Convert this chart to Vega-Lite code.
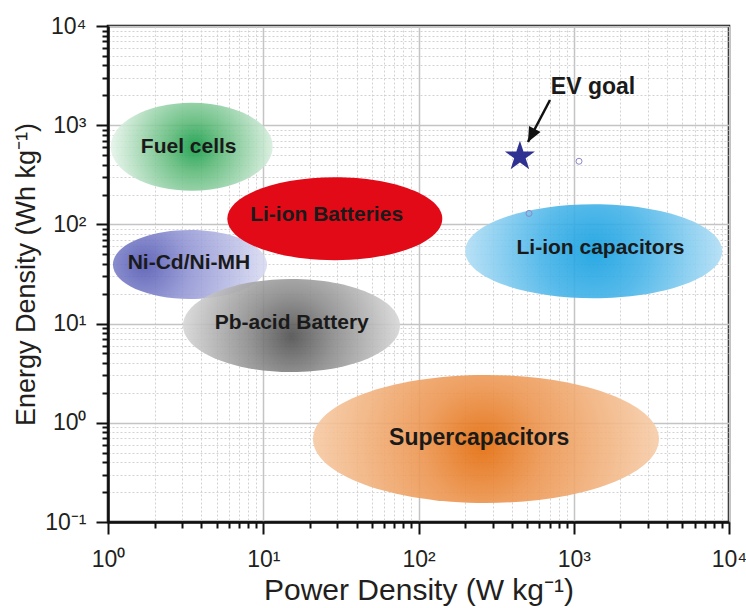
{
  "$schema": "https://vega.github.io/schema/vega-lite/v6.json",
  "width": 621,
  "height": 496,
  "autosize": {"type": "none"},
  "padding": {"left": 108, "top": 26, "right": 17, "bottom": 86},
  "background": "white",
  "config": {
    "font": "Arial, Liberation Sans, sans-serif",
    "view": {"stroke": "#111111", "strokeWidth": 2.5},
    "axis": {
      "domainColor": "#111111",
      "domainWidth": 2.5,
      "tickColor": "#111111",
      "tickWidth": 2,
      "labelFont": "Arial, Liberation Sans, sans-serif",
      "labelFontSize": 23,
      "labelColor": "#231f20",
      "labelOverlap": false,
      "labelFlush": false,
      "titleFont": "Arial, Liberation Sans, sans-serif",
      "titleFontWeight": "normal",
      "titleColor": "#231f20",
      "grid": true,
      "tickSize": {"condition": {"test": "abs(log(datum.value)/LN10 - round(log(datum.value)/LN10)) < 0.001", "value": 12}, "value": 6},
      "gridDash": {"condition": {"test": "abs(log(datum.value)/LN10 - round(log(datum.value)/LN10)) < 0.001", "value": []}, "value": [2, 2]},
      "gridColor": {"condition": {"test": "abs(log(datum.value)/LN10 - round(log(datum.value)/LN10)) < 0.001", "value": "#c4c4c4"}, "value": "#d2d2d2"},
      "gridWidth": {"condition": {"test": "abs(log(datum.value)/LN10 - round(log(datum.value)/LN10)) < 0.001", "value": 1.5}, "value": 1},
      "labelExpr": "abs(log(datum.value)/LN10 - round(log(datum.value)/LN10)) < 0.001 ? '10' + ['⁻¹','⁰','¹','²','³','⁴'][round(log(datum.value)/LN10) + 1] : ''"
    }
  },
  "datasets": {
    "regions": [
      {"name": "Fuel cells", "x": 3.46, "y": 607, "lx": 3.31, "ly": 603},
      {"name": "Li-ion capacitors", "x": 1344, "y": 53.7, "lx": 1487, "ly": 57.8},
      {"name": "Supercapacitors", "x": 272, "y": 0.687, "lx": 246, "ly": 0.698},
      {"name": "Ni-Cd/Ni-MH", "x": 3.37, "y": 39.4, "lx": 3.32, "ly": 40.5},
      {"name": "Pb-acid Battery", "x": 15.2, "y": 9.57, "lx": 15.25, "ly": 10.07},
      {"name": "Li-ion Batteries", "x": 28.9, "y": 114.2, "lx": 25.6, "ly": 124.4}
    ],
    "goal": [{"label": "EV goal", "x": 450, "y": 484, "lx": 1330, "ly": 2443}],
    "samples": [{"x": 1081, "y": 433}, {"x": 515, "y": 129}],
    "arrow": [{"x": 703, "y": 1795, "x2": 507, "y2": 677}]
  },
  "encoding": {
    "x": {
      "field": "x", "type": "quantitative",
      "scale": {"type": "log", "domain": [1, 10000], "nice": false},
      "axis": {
        "title": "Power Density (W kg⁻¹)",
        "titleFontSize": 30,
        "values": [1,2,3,4,5,6,7,8,9,10,20,30,40,50,60,70,80,90,100,200,300,400,500,600,700,800,900,1000,2000,3000,4000,5000,6000,7000,8000,9000,10000],
        "labelPadding": 14,
        "titlePadding": 4
      }
    },
    "y": {
      "field": "y", "type": "quantitative",
      "scale": {"type": "log", "domain": [0.1, 10000], "nice": false},
      "axis": {
        "title": "Energy Density (Wh kg⁻¹)",
        "titleFontSize": 27,
        "values": [0.1,0.2,0.3,0.4,0.5,0.6,0.7,0.8,0.9,1,2,3,4,5,6,7,8,9,10,20,30,40,50,60,70,80,90,100,200,300,400,500,600,700,800,900,1000,2000,3000,4000,5000,6000,7000,8000,9000,10000],
        "labelPadding": 10,
        "titlePadding": 4
      }
    }
  },
  "layer": [
    {
      "data": {"name": "regions"},
      "transform": [{"filter": "datum.name === 'Fuel cells'"}],
      "mark": {
        "type": "point", "filled": true, "opacity": 1, "fillOpacity": 0.88, "strokeWidth": 0,
        "shape": "M -1 0 A 1 0.543 0 1 1 1 0 A 1 0.543 0 1 1 -1 0 Z",
        "size": 26244,
        "fill": {"gradient": "radial", "x1": 0.52, "y1": 0.5, "r1": 0, "x2": 0.52, "y2": 0.5, "r2": 0.52,
          "stops": [{"offset": 0, "color": "#0c9a42"}, {"offset": 0.3, "color": "#5ab876"}, {"offset": 1, "color": "#e6f4ea"}]}
      }
    },
    {
      "data": {"name": "regions"},
      "transform": [{"filter": "datum.name === 'Li-ion capacitors'"}],
      "mark": {
        "type": "point", "filled": true, "opacity": 1, "fillOpacity": 0.9, "strokeWidth": 0,
        "shape": "M -1 0 A 1 0.366 0 1 1 1 0 A 1 0.366 0 1 1 -1 0 Z",
        "size": 66049,
        "fill": {"gradient": "radial", "x1": 0.5, "y1": 0.5, "r1": 0, "x2": 0.5, "y2": 0.5, "r2": 0.5,
          "stops": [{"offset": 0, "color": "#129fe0"}, {"offset": 0.4, "color": "#45b3e8"}, {"offset": 1, "color": "#b2def5"}]}
      }
    },
    {
      "data": {"name": "regions"},
      "transform": [{"filter": "datum.name === 'Supercapacitors'"}],
      "mark": {
        "type": "point", "filled": true, "opacity": 1, "fillOpacity": 0.9, "strokeWidth": 0,
        "shape": "M -1 0 A 1 0.37 0 1 1 1 0 A 1 0.37 0 1 1 -1 0 Z",
        "size": 119716,
        "fill": {"gradient": "radial", "x1": 0.49, "y1": 0.52, "r1": 0, "x2": 0.49, "y2": 0.52, "r2": 0.5,
          "stops": [{"offset": 0, "color": "#e36a08"}, {"offset": 0.35, "color": "#ec9550"}, {"offset": 1, "color": "#f6cba6"}]}
      }
    },
    {
      "data": {"name": "regions"},
      "transform": [{"filter": "datum.name === 'Ni-Cd/Ni-MH'"}],
      "mark": {
        "type": "point", "filled": true, "opacity": 1, "fillOpacity": 0.88, "strokeWidth": 0,
        "shape": "M -1 0 A 1 0.448 0 1 1 1 0 A 1 0.448 0 1 1 -1 0 Z",
        "size": 23716,
        "fill": {"gradient": "radial", "x1": 0.2, "y1": 0.5, "r1": 0, "x2": 0.2, "y2": 0.5, "r2": 0.85,
          "stops": [{"offset": 0, "color": "#4f54b0"}, {"offset": 0.35, "color": "#8e92d2"}, {"offset": 1, "color": "#e0e2f5"}]}
      }
    },
    {
      "data": {"name": "regions"},
      "transform": [{"filter": "datum.name === 'Pb-acid Battery'"}],
      "mark": {
        "type": "point", "filled": true, "opacity": 1, "fillOpacity": 0.9, "strokeWidth": 0,
        "shape": "M -1 0 A 1 0.429 0 1 1 1 0 A 1 0.429 0 1 1 -1 0 Z",
        "size": 47089,
        "fill": {"gradient": "radial", "x1": 0.5, "y1": 0.55, "r1": 0, "x2": 0.5, "y2": 0.55, "r2": 0.5,
          "stops": [{"offset": 0, "color": "#4e4e4e"}, {"offset": 0.4, "color": "#8c8c8c"}, {"offset": 1, "color": "#d6d6d6"}]}
      }
    },
    {
      "data": {"name": "regions"},
      "transform": [{"filter": "datum.name === 'Li-ion Batteries'"}],
      "mark": {
        "type": "point", "filled": true, "opacity": 1, "strokeWidth": 0,
        "shape": "M -1 0 A 1 0.386 0 1 1 1 0 A 1 0.386 0 1 1 -1 0 Z",
        "size": 46225,
        "fill": "#e20a17"
      }
    },
    {
      "data": {"name": "regions"},
      "transform": [{"filter": "datum.name !== 'Supercapacitors'"}],
      "mark": {"type": "text", "fontSize": 21, "fontWeight": "bold", "color": "#1a1a1a", "baseline": "middle", "align": "center"},
      "encoding": {
        "x": {"field": "lx", "type": "quantitative"},
        "y": {"field": "ly", "type": "quantitative"},
        "text": {"field": "name"}
      }
    },
    {
      "data": {"name": "regions"},
      "transform": [{"filter": "datum.name === 'Supercapacitors'"}],
      "mark": {"type": "text", "fontSize": 23, "fontWeight": "bold", "color": "#1a1a1a", "baseline": "middle", "align": "center"},
      "encoding": {
        "x": {"field": "lx", "type": "quantitative"},
        "y": {"field": "ly", "type": "quantitative"},
        "text": {"field": "name"}
      }
    },
    {
      "data": {"name": "samples"},
      "mark": {"type": "point", "shape": "circle", "size": 36, "filled": false, "stroke": "#8c86c8", "strokeWidth": 1, "opacity": 1}
    },
    {
      "data": {"name": "arrow"},
      "mark": {"type": "rule", "color": "#111111", "strokeWidth": 2.5},
      "encoding": {
        "x2": {"field": "x2"},
        "y2": {"field": "y2"}
      }
    },
    {
      "data": {"name": "arrow"},
      "mark": {"type": "point", "shape": "M 0 0 L 0.75 1.7 L -0.75 1.7 Z", "size": 300, "filled": true, "color": "#111111", "opacity": 1, "strokeWidth": 0, "angle": 207.6},
      "encoding": {
        "x": {"field": "x2", "type": "quantitative"},
        "y": {"field": "y2", "type": "quantitative"}
      }
    },
    {
      "data": {"name": "goal"},
      "mark": {"type": "point", "shape": "M 0 -1 L 0.2245 -0.309 L 0.9511 -0.309 L 0.3633 0.118 L 0.5878 0.809 L 0 0.382 L -0.5878 0.809 L -0.3633 0.118 L -0.9511 -0.309 L -0.2245 -0.309 Z", "size": 1000, "filled": true, "color": "#2e3192", "opacity": 1, "strokeWidth": 0}
    },
    {
      "data": {"name": "goal"},
      "mark": {"type": "text", "fontSize": 23, "fontWeight": "bold", "color": "#1a1a1a", "baseline": "middle", "align": "center"},
      "encoding": {
        "x": {"field": "lx", "type": "quantitative"},
        "y": {"field": "ly", "type": "quantitative"},
        "text": {"field": "label"}
      }
    }
  ]
}
